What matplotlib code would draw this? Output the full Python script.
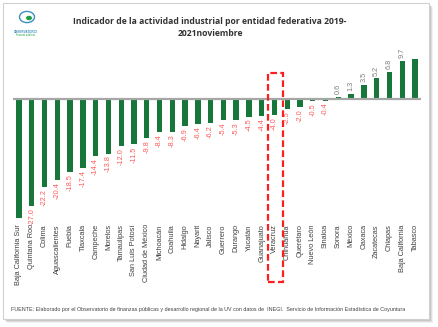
import matplotlib
matplotlib.use("Agg")
import matplotlib.pyplot as plt
from matplotlib.patches import Rectangle, Circle

states = ["Baja California Sur", "Quintana Roo", "Colima", "Aguascalientes", "Puebla",
          "Tlaxcala", "Campeche", "Morelos", "Tamaulipas", "San Luis Potosí",
          "Ciudad de México", "Michoacán", "Coahuila", "Hidalgo", "Nayarit", "Jalisco",
          "Guerrero", "Durango", "Yucatán", "Guanajuato", "Veracruz", "Chihuahua",
          "Querétaro", "Nuevo León", "Sinaloa", "Sonora", "México", "Oaxaca",
          "Zacatecas", "Chiapas", "Baja California", "Tabasco"]
values = [-30.0, -27.0, -22.2, -20.4, -18.5, -17.4, -14.4, -13.8, -12.0, -11.5,
          -9.8, -8.4, -8.3, -6.9, -6.4, -6.2, -5.4, -5.3, -4.5, -4.4, -4.0, -2.5,
          -2.0, -0.5, -0.4, 0.6, 1.3, 3.5, 5.2, 6.8, 9.7, 10.0]
show_label = [False] + [True] * 30 + [False]

title = "Indicador de la actividad industrial por entidad federativa 2019-\n2021noviembre"
source = ("FUENTE: Elaborado por el Observatorio de finanzas públicas y desarrollo regional "
          "de la UV con datos de  INEGI.  Servicio de Información Estadística de Coyuntura")

W, H = 438, 327
fig = plt.figure(figsize=(W / 100, H / 100), dpi=100)
fig.patch.set_facecolor("white")

def fx(px):
    return px / W

def fy(py):
    return 1 - py / H

# card with shadow
for i, a in enumerate([0.06, 0.08, 0.1]):
    off = 3 - i
    fig.patches.append(Rectangle((fx(4 + off), fy(320 + off)), fx(426), 316 / H,
                                 transform=fig.transFigure, facecolor="#000000",
                                 alpha=a, edgecolor="none", zorder=0))
fig.patches.append(Rectangle((fx(3), fy(319)), fx(426), 316 / H,
                             transform=fig.transFigure, facecolor="white",
                             edgecolor="#D0D0D0", linewidth=0.8, zorder=0.5))

# axes
left_px, right_px = 12.6, 421.4
top_px, bot_px = 45, 220
ax = fig.add_axes([fx(left_px), fy(bot_px), fx(right_px - left_px), (bot_px - top_px) / H])
ax.set_zorder(2)
ax.set_facecolor("none")
x = list(range(len(states)))
ax.bar(x, values, width=0.42, color="#17773A", zorder=2)
ax.axhline(0, color="#A6A6A6", linewidth=1.6, zorder=3)
ax.set_xlim(-0.5, len(states) - 0.5)
ax.set_ylim(-30.63, 13.67)
for s in ax.spines.values():
    s.set_visible(False)
ax.set_yticks([])
ax.set_xticks(x)
ax.set_xticklabels(states, rotation=90, fontsize=5.3, family="Liberation Sans",
                   color="#404040")
ax.tick_params(axis="x", length=0, pad=3)

for xi, v, sl in zip(x, values, show_label):
    if not sl:
        continue
    if v < 0:
        ax.annotate(f"{v:.1f}", (xi, v), xytext=(0, -1.5), textcoords="offset points",
                    rotation=90, ha="center", va="top", fontsize=5.3,
                    family="Liberation Sans", color="#FF5B5B")
    else:
        ax.annotate(f"{v:.1f}", (xi, v), xytext=(0, 2), textcoords="offset points",
                    rotation=90, ha="center", va="bottom", fontsize=5.3,
                    family="Liberation Sans", color="#7F7F7F")

# highlight box around Veracruz
fig.patches.append(Rectangle((fx(267.5), fy(282)), fx(15), (282 - 73) / H,
                             transform=fig.transFigure, facecolor="none",
                             edgecolor="#FF1E1E", linewidth=1.6,
                             linestyle=(0, (3, 1.5)), zorder=5))

# title
fig.text(fx(210), fy(17), title, ha="center", va="top", fontsize=6.2,
         fontweight="bold", family="Open Sans", color="#333333", linespacing=1.5)

# logo approximation
fig.patches.append(Circle((fx(27), fy(17)), 7.5 / W, transform=fig.transFigure,
                          facecolor="white", edgecolor="#3C8FC0", linewidth=1.0, zorder=3))
fig.patches.append(Circle((fx(29), fy(18)), 3 / W, transform=fig.transFigure,
                          facecolor="#1E9E48", edgecolor="none", zorder=4))
fig.text(fx(26), fy(32), "OBSERVATORIO", ha="center", va="center", fontsize=2.2,
         color="#3C8FC0", family="Liberation Sans", fontweight="bold")
fig.text(fx(26), fy(35), "finanzas públicas", ha="center", va="center", fontsize=1.8,
         color="#1E9E48", family="Liberation Sans")

# source
fig.text(fx(11), fy(309), source, ha="left", va="center", fontsize=3.9,
         family="Liberation Sans", color="#404040")

fig.savefig("out.png", dpi=100, facecolor="white")
